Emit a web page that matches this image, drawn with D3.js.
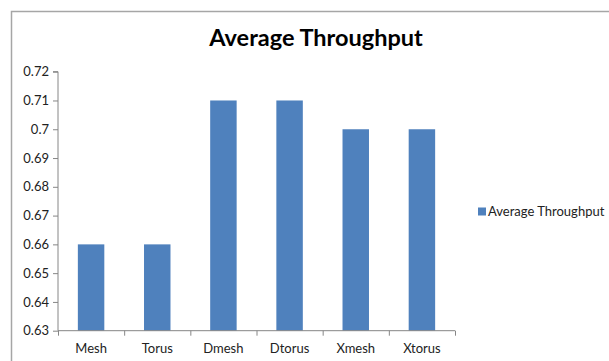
<!DOCTYPE html>
<html><head><meta charset="utf-8">
<script src="https://cdn.jsdelivr.net/npm/d3@7"></script>
<style>body{margin:0;background:#fff}svg{display:block}</style>
</head><body>
<svg id="c" width="609" height="361"></svg>
<script>
const categories = ["Mesh","Torus","Dmesh","Dtorus","Xmesh","Xtorus"];
const values = [0.66,0.66,0.71,0.71,0.70,0.70];
const yTicks = [0.63,0.64,0.65,0.66,0.67,0.68,0.69,0.7,0.71,0.72];
const seriesName = "Average Throughput";
const title = "Average Throughput";

(function(){
const svg = d3.select("#c");
const font = "Lato, 'Open Sans', sans-serif";
const fs = 13;
// outer frame
svg.append("rect").attr("x",11.5).attr("y",11.5).attr("width",700).attr("height",400)
  .attr("fill","none").attr("stroke","#a6a6a6").attr("stroke-width",1.5);

const pLeft=58, pRight=455, pTop=71.7, pBottom=330.7;
const x = d3.scaleBand().domain(categories).range([pLeft,pRight]).paddingInner(0.6).paddingOuter(0.3);
const y = d3.scaleLinear().domain([0.63,0.72]).range([pBottom,pTop]);

svg.append("text").attr("x",316).attr("y",46).attr("text-anchor","middle")
  .attr("font-family",font).attr("font-weight","bold").attr("font-size",23.5).attr("fill","#000").text(title);

svg.selectAll("rect.bar").data(values).join("rect").attr("class","bar")
  .attr("x",(d,i)=>x(categories[i])).attr("width",x.bandwidth())
  .attr("y",d=>y(d)).attr("height",d=>pBottom-y(d)).attr("fill","#4F81BD");

// y axis
const ya = svg.append("g").attr("transform",`translate(${pLeft},0)`)
  .call(d3.axisLeft(y).tickValues(yTicks).tickSize(5).tickPadding(4).tickFormat(d=>String(+d.toFixed(2))));
ya.select(".domain").attr("stroke","#868686").attr("d",`M-5,${pTop}H0V${pBottom}`);
ya.selectAll(".tick line").attr("stroke","#868686");
ya.selectAll(".tick text").attr("font-family",font).attr("font-size",fs).attr("fill","#222");

// x axis
const xb = d3.scaleLinear().domain([0,categories.length]).range([pLeft,pRight]);
const xa = svg.append("g").attr("transform",`translate(0,${pBottom})`)
  .call(d3.axisBottom(xb).tickValues(d3.range(categories.length+1)).tickSize(5).tickFormat(""));
xa.select(".domain").attr("stroke","#868686").attr("d",`M${pLeft},0H${pRight}`);
xa.selectAll(".tick line").attr("stroke","#868686");
svg.append("g").selectAll("text").data(categories).join("text")
  .attr("x",d=>x(d)+x.bandwidth()/2).attr("y",pBottom+22.5).attr("text-anchor","middle")
  .attr("font-family",font).attr("font-size",fs).attr("fill","#222").text(d=>d);

// legend
svg.append("rect").attr("x",478).attr("y",207.5).attr("width",8).attr("height",8).attr("fill","#4F81BD");
svg.append("text").attr("x",488).attr("y",216).attr("font-family",font).attr("font-size",fs).attr("fill","#222").text(seriesName);
})();
</script>
</body></html>
